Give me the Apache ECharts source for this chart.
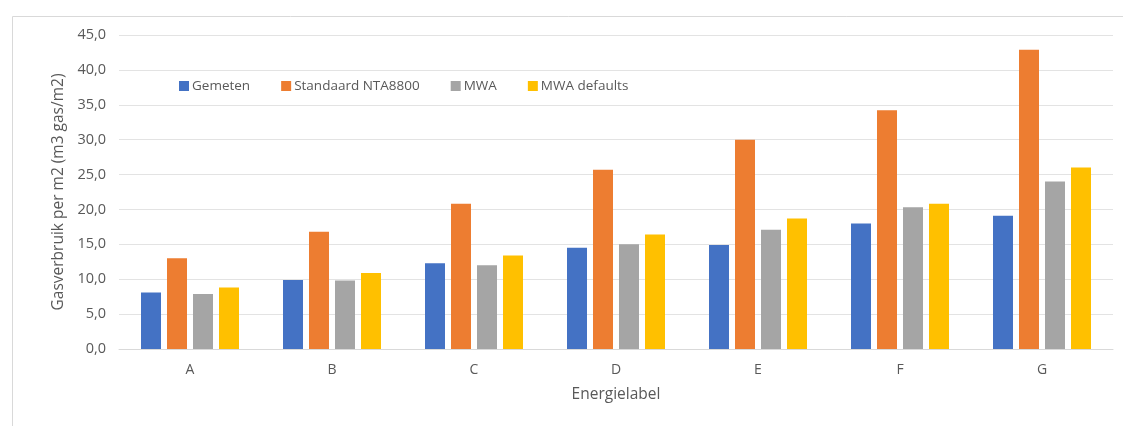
<!DOCTYPE html>
<html>
<head>
<meta charset="utf-8">
<script src="https://cdn.jsdelivr.net/npm/echarts@6/dist/echarts.min.js"></script>
<style>html,body{margin:0;padding:0;background:#fff}#c{width:1123px;height:426px}</style>
</head>
<body>
<div id="c"></div>
<script>
const categories = ['A', 'B', 'C', 'D', 'E', 'F', 'G'];
const gemeten = [8.1, 9.9, 12.3, 14.5, 14.9, 18.0, 19.1];
const standaard = [13.0, 16.8, 20.8, 25.7, 30.0, 34.2, 42.9];
const mwa = [7.9, 9.8, 12.0, 15.0, 17.1, 20.3, 24.0];
const mwaDefaults = [8.8, 10.9, 13.4, 16.4, 18.7, 20.8, 26.0];
const yTicks = [0, 5, 10, 15, 20, 25, 30, 35, 40, 45];

const FONT = 'Open Sans';
const chart = echarts.init(document.getElementById('c'), null, {renderer: 'canvas'});
const mk = (name, data, color) => ({
  name, type: 'bar', data, barWidth: 20, barGap: '30%',
  itemStyle: {color}
});
chart.setOption({
  animation: false,
  textStyle: {fontFamily: FONT},
  graphic: [{
    type: 'rect', left: 10, top: 14, z: -10,
    shape: {width: 1200, height: 500},
    style: {fill: 'none', stroke: '#d9d9d9', lineWidth: 1}
  }],
  legend: {
    left: 174, top: 74, itemWidth: 10, itemHeight: 10, itemGap: 31,
    icon: 'rect',
    textStyle: {color: '#595959', fontSize: 13.5, fontFamily: FONT, padding: [0, 0, 0, -2]},
    data: ['Gemeten', 'Standaard NTA8800', 'MWA', 'MWA defaults']
  },
  grid: {left: 119, right: 10, top: 35, bottom: 77},
  xAxis: {
    type: 'category', data: categories,
    name: 'Energielabel', nameLocation: 'middle', nameGap: 38,
    nameTextStyle: {color: '#595959', fontSize: 15.5, fontFamily: FONT},
    axisLine: {lineStyle: {color: '#d9d9d9'}},
    axisTick: {show: false},
    axisLabel: {color: '#595959', fontSize: 14, margin: 14, fontFamily: FONT}
  },
  yAxis: {
    type: 'value', min: 0, max: 45, interval: 5,
    name: 'Gasverbruik per m2 (m3 gas/m2)', nameLocation: 'middle', nameGap: 51,
    nameTextStyle: {color: '#595959', fontSize: 15.5, fontFamily: FONT},
    axisLine: {show: false}, axisTick: {show: false},
    splitLine: {lineStyle: {color: '#e3e3e3'}},
    axisLabel: {
      color: '#595959', fontSize: 14.5, margin: 13, fontFamily: FONT,
      formatter: v => yTicks.includes(v) ? v.toFixed(1).replace('.', ',') : ''
    }
  },
  series: [
    mk('Gemeten', gemeten, '#4472c4'),
    mk('Standaard NTA8800', standaard, '#ed7d31'),
    mk('MWA', mwa, '#a5a5a5'),
    mk('MWA defaults', mwaDefaults, '#ffc000')
  ]
});
</script>
</body>
</html>
